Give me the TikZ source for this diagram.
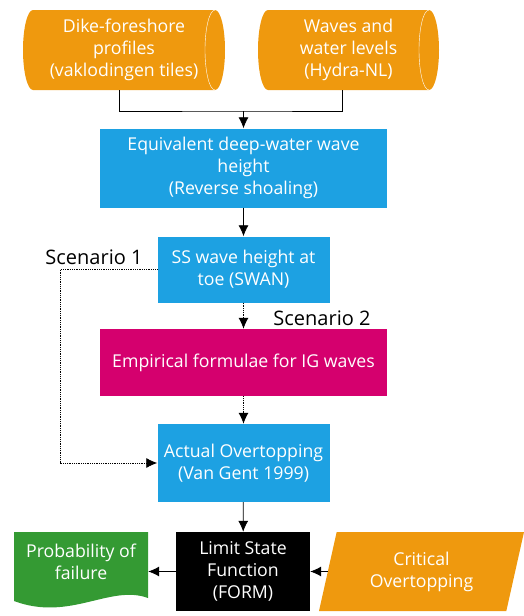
\documentclass[tikz,border=0pt]{standalone}
\usepackage{fontspec}
\setmainfont{Open Sans}
\usepackage{tikz}
\usetikzlibrary{shapes.geometric,arrows.meta}
\definecolor{orng}{HTML}{EF990E}
\definecolor{blu}{HTML}{1DA1E2}
\definecolor{mgnt}{HTML}{D5006E}
\definecolor{grn}{HTML}{349A33}
\tikzset{
	txt/.style={text=white,align=center,font=\fontsize{17.7}{22}\selectfont,inner sep=0pt},
	data/.style={txt,minimum height=80pt,path picture={
		\fill[orng] ([xshift=10pt]path picture bounding box.north west) -- ([xshift=-10pt]path picture bounding box.north east)
			arc[start angle=90,end angle=-90,x radius=10pt,y radius=40pt] -- ([xshift=10pt]path picture bounding box.south west)
			arc[start angle=270,end angle=90,x radius=10pt,y radius=40pt] -- cycle;
		\draw[white,thin] ([xshift=-10pt]path picture bounding box.north east) arc[start angle=90,end angle=270,x radius=10pt,y radius=40pt];
	}},
	proc/.style={txt,rectangle,fill=blu},
	lab/.style={font=\fontsize{20}{24}\selectfont,inner sep=0pt},
	arr/.style={-{Latex[length=11pt,width=10pt]},thick},
	dots/.style={arr,densely dotted}
}
\begin{document}
\begin{tikzpicture}[x=1pt,y=-1pt]
			\useasboundingbox (0,0) rectangle (524,616);
			% inputs
			\node[data,minimum width=202pt] (prof) at (124,50) {Dike-foreshore\\profiles\\(vaklodingen tiles)};
			\node[data,minimum width=181pt] (waves) at (348.5,50) {Waves and\\water levels\\(Hydra-NL)};
			\coordinate (join) at (243.5,111);
			
			\node[proc,minimum width=287pt,minimum height=79pt] (deep) at (243.5,168) {Equivalent deep-water wave\\height\\(Reverse shoaling)};
			\node[proc,minimum width=172pt,minimum height=66pt] (ss) at (243.5,269.5) {SS wave height at\\toe (SWAN)};
			\node[txt,fill=mgnt,minimum width=287pt,minimum height=67pt] (emp) at (243.5,362.5) {Empirical formulae for IG waves};
			\node[proc,minimum width=172pt,minimum height=78pt] (act) at (243.5,463) {Actual Overtopping\\(Van Gent 1999)};
			\node[lab] (sc1) at (94,257) {Scenario 1};
			\node[lab] (sc2) at (322,318) {Scenario 2};
			
			% bottom row
			\node[txt,fill=black,minimum width=134pt,minimum height=79pt] (lsf) at (243,571.5) {Limit State\\Function\\(FORM)};
			\node[txt,trapezium,trapezium left angle=66,trapezium right angle=114,trapezium stretches body,fill=orng,minimum width=205pt,minimum height=79pt] (crit) at (421.5,571.5) {Critical\\Overtopping};
			\fill[grn] (14,532) -- (148,532) -- (148,598) .. controls (110,584) and (70,622) .. (14,601) -- cycle;
			\node[txt,minimum width=134pt,minimum height=79pt] (pof) at (81,562) {Probability of\\failure};
			
			\draw[thick] ([xshift=-5pt]prof.south) |- (join) -| ([xshift=-6pt]waves.south);
			\draw[arr] (join) -- (deep.north);
			\draw[arr] (deep) -- (ss);
			\draw[dots] (ss) -- (emp);
			\draw[dots] (emp) -- (act);
			\draw[dots] (ss.west) -- ++(-97,0) |- (act.west);
			\draw[arr] (act) -- (lsf);
			\draw[arr] (lsf.west) -- (pof.east |- lsf.west);
			\draw[arr] (crit.left side) -- (lsf.east);
		\end{tikzpicture}
\end{document}
